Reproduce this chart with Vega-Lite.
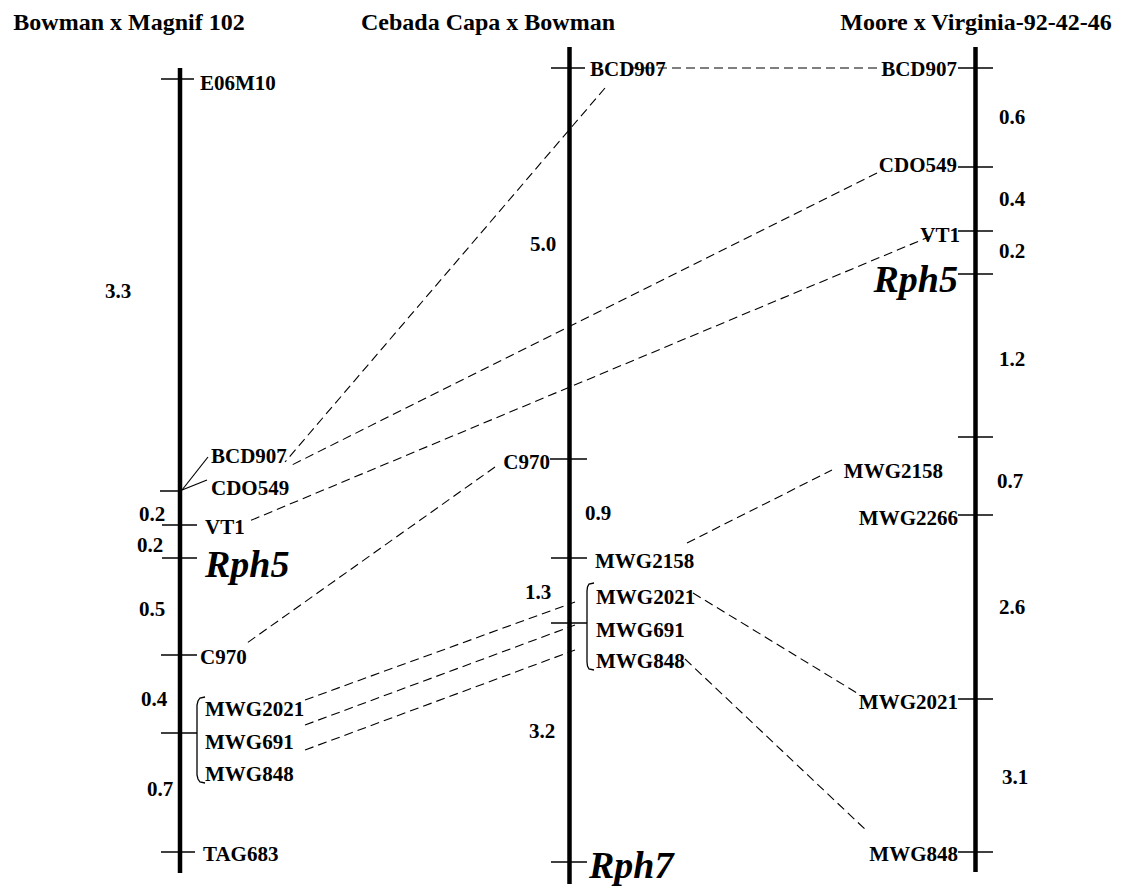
{
  "$schema": "https://vega.github.io/schema/vega-lite/v6.json",
  "width": 1129,
  "height": 888,
  "padding": 0,
  "autosize": {"type": "fit", "contains": "padding"},
  "background": "white",
  "config": {"view": {"stroke": null}, "axis": {"disable": true}},
  "datasets": {
    "chroms": [
      {"chrom": "Bowman x Magnif 102", "x": 180, "top": 68, "bottom": 873},
      {"chrom": "Cebada Capa x Bowman", "x": 569.5, "top": 47, "bottom": 884},
      {"chrom": "Moore x Virginia-92-42-46", "x": 975.5, "top": 47, "bottom": 872}
    ],
    "ticks": [
      {"marker": "E06M10", "x1": 161, "x2": 194, "y": 79},
      {"marker": "BCD907/CDO549", "x1": 160, "x2": 182, "y": 491},
      {"marker": "VT1", "x1": 162, "x2": 197, "y": 525},
      {"marker": "Rph5", "x1": 162, "x2": 197, "y": 558},
      {"marker": "C970", "x1": 161, "x2": 197, "y": 655},
      {"marker": "MWG group", "x1": 161, "x2": 197, "y": 733},
      {"marker": "TAG683", "x1": 161, "x2": 195, "y": 852},
      {"marker": "BCD907", "x1": 551, "x2": 585, "y": 68},
      {"marker": "C970", "x1": 550, "x2": 587, "y": 459},
      {"marker": "MWG2158", "x1": 551, "x2": 587, "y": 558},
      {"marker": "MWG group", "x1": 551, "x2": 587, "y": 623},
      {"marker": "Rph7", "x1": 551, "x2": 587, "y": 862},
      {"marker": "BCD907", "x1": 958, "x2": 993, "y": 68},
      {"marker": "CDO549", "x1": 958, "x2": 993, "y": 167},
      {"marker": "VT1", "x1": 958, "x2": 993, "y": 231},
      {"marker": "Rph5", "x1": 958, "x2": 993, "y": 274},
      {"marker": "", "x1": 958, "x2": 993, "y": 437},
      {"marker": "MWG2266", "x1": 958, "x2": 993, "y": 515},
      {"marker": "MWG2021", "x1": 958, "x2": 993, "y": 699},
      {"marker": "MWG848", "x1": 958, "x2": 993, "y": 852}
    ],
    "links": [
      {"pair": "BCD907 leader", "style": "solid", "x1": 182, "y1": 490, "x2": 208, "y2": 457},
      {"pair": "CDO549 leader", "style": "solid", "x1": 182, "y1": 490, "x2": 207, "y2": 480},
      {"pair": "BCD907 1-2", "style": "dash", "x1": 605, "y1": 88, "x2": 285, "y2": 462},
      {"pair": "BCD907 2-3", "style": "dash", "x1": 630, "y1": 68, "x2": 880, "y2": 68},
      {"pair": "CDO549 1-3", "style": "dash", "x1": 877, "y1": 173, "x2": 290, "y2": 466},
      {"pair": "VT1 1-3", "style": "dash", "x1": 931, "y1": 236, "x2": 247, "y2": 522},
      {"pair": "C970 1-2", "style": "dash", "x1": 495, "y1": 467, "x2": 247, "y2": 643},
      {"pair": "MWG2021 1-2", "style": "dash", "x1": 305, "y1": 700, "x2": 575, "y2": 602},
      {"pair": "MWG691 1-2", "style": "dash", "x1": 305, "y1": 725, "x2": 575, "y2": 625},
      {"pair": "MWG848 1-2", "style": "dash", "x1": 305, "y1": 750, "x2": 575, "y2": 650},
      {"pair": "MWG2158 2-3", "style": "dash", "x1": 687, "y1": 543, "x2": 832, "y2": 470},
      {"pair": "MWG2021 2-3", "style": "dash", "x1": 693, "y1": 593, "x2": 857, "y2": 693},
      {"pair": "MWG848 2-3", "style": "dash", "x1": 685, "y1": 659, "x2": 868, "y2": 832}
    ],
    "brackets": [
      {"g": "b1", "o": 1, "x": 205, "y": 697},
      {"g": "b1", "o": 2, "x": 200, "y": 698},
      {"g": "b1", "o": 3, "x": 198, "y": 701},
      {"g": "b1", "o": 4, "x": 197, "y": 705},
      {"g": "b1", "o": 5, "x": 197, "y": 775},
      {"g": "b1", "o": 6, "x": 198, "y": 779},
      {"g": "b1", "o": 7, "x": 200, "y": 782},
      {"g": "b1", "o": 8, "x": 205, "y": 783},
      {"g": "b2", "o": 1, "x": 594, "y": 583},
      {"g": "b2", "o": 2, "x": 589, "y": 584},
      {"g": "b2", "o": 3, "x": 587.5, "y": 587},
      {"g": "b2", "o": 4, "x": 587, "y": 591},
      {"g": "b2", "o": 5, "x": 587, "y": 662},
      {"g": "b2", "o": 6, "x": 587.5, "y": 666},
      {"g": "b2", "o": 7, "x": 589, "y": 669},
      {"g": "b2", "o": 8, "x": 594, "y": 670}
    ],
    "labels": [
      {"text": "E06M10", "kind": "left", "x": 200, "y": 84},
      {"text": "BCD907", "kind": "left", "x": 211, "y": 457},
      {"text": "CDO549", "kind": "left", "x": 211, "y": 489},
      {"text": "VT1", "kind": "left", "x": 205, "y": 528},
      {"text": "C970", "kind": "left", "x": 200, "y": 658},
      {"text": "MWG2021", "kind": "left", "x": 205, "y": 710},
      {"text": "MWG691", "kind": "left", "x": 205, "y": 743},
      {"text": "MWG848", "kind": "left", "x": 205, "y": 775},
      {"text": "TAG683", "kind": "left", "x": 203, "y": 855},
      {"text": "BCD907", "kind": "left", "x": 590, "y": 70},
      {"text": "MWG2158", "kind": "left", "x": 595, "y": 562},
      {"text": "MWG2021", "kind": "left", "x": 596, "y": 598},
      {"text": "MWG691", "kind": "left", "x": 596, "y": 631},
      {"text": "MWG848", "kind": "left", "x": 596, "y": 662},
      {"text": "C970", "kind": "right", "x": 550, "y": 463},
      {"text": "BCD907", "kind": "right", "x": 957, "y": 70},
      {"text": "CDO549", "kind": "right", "x": 957, "y": 166},
      {"text": "VT1", "kind": "right", "x": 960, "y": 236},
      {"text": "MWG2158", "kind": "right", "x": 943, "y": 472},
      {"text": "MWG2266", "kind": "right", "x": 958, "y": 519},
      {"text": "MWG2021", "kind": "right", "x": 958, "y": 703},
      {"text": "MWG848", "kind": "right", "x": 958, "y": 855},
      {"text": "Rph5", "kind": "geneLeft", "x": 205, "y": 566},
      {"text": "Rph7", "kind": "geneLeft", "x": 589, "y": 867},
      {"text": "Rph5", "kind": "geneRight", "x": 958, "y": 281},
      {"text": "3.3", "kind": "num", "x": 118, "y": 292},
      {"text": "0.2", "kind": "num", "x": 152, "y": 515},
      {"text": "0.2", "kind": "num", "x": 150, "y": 546},
      {"text": "0.5", "kind": "num", "x": 152, "y": 610},
      {"text": "0.4", "kind": "num", "x": 154, "y": 700},
      {"text": "0.7", "kind": "num", "x": 160, "y": 790},
      {"text": "5.0", "kind": "num", "x": 543, "y": 245},
      {"text": "0.9", "kind": "num", "x": 598, "y": 514},
      {"text": "1.3", "kind": "num", "x": 538, "y": 593},
      {"text": "3.2", "kind": "num", "x": 542, "y": 732},
      {"text": "0.6", "kind": "num", "x": 1012, "y": 118},
      {"text": "0.4", "kind": "num", "x": 1012, "y": 200},
      {"text": "0.2", "kind": "num", "x": 1012, "y": 252},
      {"text": "1.2", "kind": "num", "x": 1012, "y": 360},
      {"text": "0.7", "kind": "num", "x": 1010, "y": 482},
      {"text": "2.6", "kind": "num", "x": 1012, "y": 608},
      {"text": "3.1", "kind": "num", "x": 1015, "y": 778},
      {"text": "Bowman x Magnif 102", "kind": "title", "x": 129, "y": 23},
      {"text": "Cebada Capa x Bowman", "kind": "title", "x": 488, "y": 23},
      {"text": "Moore x Virginia-92-42-46", "kind": "title", "x": 976, "y": 23}
    ]
  },
  "layer": [
    {
      "data": {"name": "chroms"},
      "mark": {"type": "rule", "strokeWidth": 4.5, "color": "black"},
      "encoding": {
        "x": {"field": "x", "type": "quantitative", "scale": {"domain": [0, 1129], "nice": false, "zero": false}},
        "y": {"field": "top", "type": "quantitative", "scale": {"domain": [0, 888], "nice": false, "zero": false, "reverse": true}},
        "y2": {"field": "bottom"}
      }
    },
    {
      "data": {"name": "ticks"},
      "mark": {"type": "rule", "strokeWidth": 1.5, "color": "black"},
      "encoding": {
        "x": {"field": "x1", "type": "quantitative"},
        "x2": {"field": "x2"},
        "y": {"field": "y", "type": "quantitative"}
      }
    },
    {
      "data": {"name": "links"},
      "transform": [{"filter": "datum.style === 'solid'"}],
      "mark": {"type": "rule", "strokeWidth": 1.2, "color": "black"},
      "encoding": {
        "x": {"field": "x1", "type": "quantitative"},
        "x2": {"field": "x2"},
        "y": {"field": "y1", "type": "quantitative"},
        "y2": {"field": "y2"}
      }
    },
    {
      "data": {"name": "links"},
      "transform": [{"filter": "datum.style === 'dash'"}],
      "mark": {"type": "rule", "strokeWidth": 1.1, "color": "black", "strokeDash": [9, 5]},
      "encoding": {
        "x": {"field": "x1", "type": "quantitative"},
        "x2": {"field": "x2"},
        "y": {"field": "y1", "type": "quantitative"},
        "y2": {"field": "y2"}
      }
    },
    {
      "data": {"name": "brackets"},
      "mark": {"type": "line", "strokeWidth": 1.3, "color": "black"},
      "encoding": {
        "x": {"field": "x", "type": "quantitative"},
        "y": {"field": "y", "type": "quantitative"},
        "detail": {"field": "g"},
        "order": {"field": "o", "type": "quantitative"}
      }
    },
    {
      "data": {"name": "labels"},
      "transform": [{"filter": "datum.kind === 'left'"}],
      "mark": {"type": "text", "align": "left", "baseline": "middle", "font": "Liberation Serif", "fontWeight": "bold", "fontSize": 21, "color": "black"},
      "encoding": {
        "x": {"field": "x", "type": "quantitative"},
        "y": {"field": "y", "type": "quantitative"},
        "text": {"field": "text"}
      }
    },
    {
      "data": {"name": "labels"},
      "transform": [{"filter": "datum.kind === 'right'"}],
      "mark": {"type": "text", "align": "right", "baseline": "middle", "font": "Liberation Serif", "fontWeight": "bold", "fontSize": 21, "color": "black"},
      "encoding": {
        "x": {"field": "x", "type": "quantitative"},
        "y": {"field": "y", "type": "quantitative"},
        "text": {"field": "text"}
      }
    },
    {
      "data": {"name": "labels"},
      "transform": [{"filter": "datum.kind === 'geneLeft'"}],
      "mark": {"type": "text", "align": "left", "baseline": "middle", "font": "Liberation Serif", "fontWeight": "bold", "fontStyle": "italic", "fontSize": 38, "color": "black"},
      "encoding": {
        "x": {"field": "x", "type": "quantitative"},
        "y": {"field": "y", "type": "quantitative"},
        "text": {"field": "text"}
      }
    },
    {
      "data": {"name": "labels"},
      "transform": [{"filter": "datum.kind === 'geneRight'"}],
      "mark": {"type": "text", "align": "right", "baseline": "middle", "font": "Liberation Serif", "fontWeight": "bold", "fontStyle": "italic", "fontSize": 38, "color": "black"},
      "encoding": {
        "x": {"field": "x", "type": "quantitative"},
        "y": {"field": "y", "type": "quantitative"},
        "text": {"field": "text"}
      }
    },
    {
      "data": {"name": "labels"},
      "transform": [{"filter": "datum.kind === 'num'"}],
      "mark": {"type": "text", "align": "center", "baseline": "middle", "font": "Liberation Serif", "fontWeight": "bold", "fontSize": 21, "color": "black"},
      "encoding": {
        "x": {"field": "x", "type": "quantitative"},
        "y": {"field": "y", "type": "quantitative"},
        "text": {"field": "text"}
      }
    },
    {
      "data": {"name": "labels"},
      "transform": [{"filter": "datum.kind === 'title'"}],
      "mark": {"type": "text", "align": "center", "baseline": "middle", "font": "Liberation Serif", "fontWeight": "bold", "fontSize": 24, "color": "black"},
      "encoding": {
        "x": {"field": "x", "type": "quantitative"},
        "y": {"field": "y", "type": "quantitative"},
        "text": {"field": "text"}
      }
    }
  ]
}
